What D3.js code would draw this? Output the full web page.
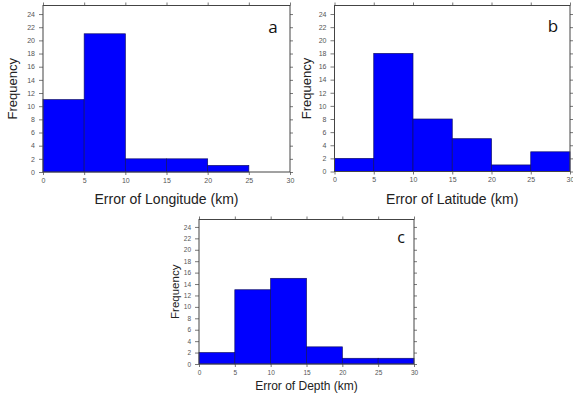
<!DOCTYPE html>
<html>
<head>
<meta charset="utf-8">
<script src="https://cdn.jsdelivr.net/npm/d3@7"></script>
<style>
  html, body { margin: 0; padding: 0; background: #fff; }
  svg { display: block; }
</style>
</head>
<body>
<svg id="chart" width="573" height="396"></svg>
<script>
// ---- data ----
const binEdges = [0, 5, 10, 15, 20, 25, 30];
const longitudeCounts = [11, 21, 2, 2, 1, 0];
const latitudeCounts = [2, 18, 8, 5, 1, 3];
const depthCounts = [2, 13, 15, 3, 1, 1];
const xTickValues = [0, 5, 10, 15, 20, 25, 30];
const yTickValues = [0, 2, 4, 6, 8, 10, 12, 14, 16, 18, 20, 22, 24];
const panelLetters = ["a", "b", "c"];
const xTitles = ["Error of Longitude (km)", "Error of Latitude (km)", "Error of Depth (km)"];
const yTitle = "Frequency";

const svg = d3.select("#chart");

const panels = [
  { counts: longitudeCounts, letter: panelLetters[0], xTitle: xTitles[0],
    x0: 43, x1: 290, yBottom: 172, yTop: 5.5,
    titleFont: 14, yTitleFont: 13, tickFont: 7, yTitleX: 17, xTitleY: 204,
    letterX: 273, letterY: 33, letterFont: 17 },
  { counts: latitudeCounts, letter: panelLetters[1], xTitle: xTitles[1],
    x0: 334.5, x1: 570, yBottom: 171.5, yTop: 5.5,
    titleFont: 14, yTitleFont: 13, tickFont: 7, yTitleX: 311, xTitleY: 204,
    letterX: 553, letterY: 32, letterFont: 17 },
  { counts: depthCounts, letter: panelLetters[2], xTitle: xTitles[2],
    x0: 199, x1: 414, yBottom: 364, yTop: 219.5,
    titleFont: 12, yTitleFont: 11.5, tickFont: 6.5, yTitleX: 179, xTitleY: 390,
    letterX: 401, letterY: 243, letterFont: 16 }
];

panels.forEach(p => {
  const x = d3.scaleLinear().domain([0, 30]).range([p.x0, p.x1]);
  const y = d3.scaleLinear().domain([0, 25.3]).range([p.yBottom, p.yTop]);
  const g = svg.append("g");

  const bins = p.counts.map((c, i) => ({ x0: binEdges[i], x1: binEdges[i + 1], c }))
                       .filter(d => d.c > 0);

  g.selectAll("rect.bar").data(bins).enter().append("rect")
    .attr("class", "bar")
    .attr("x", d => x(d.x0))
    .attr("y", d => y(d.c))
    .attr("width", d => x(d.x1) - x(d.x0))
    .attr("height", d => y(0) - y(d.c))
    .attr("fill", "#0000ff")
    .attr("stroke", "#10106a")
    .attr("stroke-width", 0.7);

  const styleAxis = (sel, showLabels, fs) => {
    sel.select(".domain").remove();
    sel.selectAll(".tick line").attr("stroke", "#555").attr("stroke-width", 0.8);
    sel.selectAll(".tick text")
      .attr("fill", "#555")
      .style("font-family", "'Liberation Sans', Arial, sans-serif")
      .style("font-size", fs + "px");
    if (!showLabels) sel.selectAll(".tick text").remove();
  };

  g.append("g").attr("transform", `translate(0,${p.yBottom})`)
    .call(d3.axisBottom(x).tickValues(xTickValues).tickSize(3).tickPadding(3))
    .call(s => styleAxis(s, true, p.tickFont));
  g.append("g").attr("transform", `translate(0,${p.yTop})`)
    .call(d3.axisTop(x).tickValues(xTickValues).tickSize(3))
    .call(s => styleAxis(s, false, p.tickFont));
  g.append("g").attr("transform", `translate(${p.x0},0)`)
    .call(d3.axisLeft(y).tickValues(yTickValues).tickSize(4).tickPadding(4))
    .call(s => styleAxis(s, true, p.tickFont));
  g.append("g").attr("transform", `translate(${p.x1},0)`)
    .call(d3.axisRight(y).tickValues(yTickValues).tickSize(3))
    .call(s => styleAxis(s, false, p.tickFont));

  g.append("rect")
    .attr("x", p.x0).attr("y", p.yTop)
    .attr("width", p.x1 - p.x0).attr("height", p.yBottom - p.yTop)
    .attr("fill", "none").attr("stroke", "#444").attr("stroke-width", 1);

  g.append("text")
    .attr("x", (p.x0 + p.x1) / 2).attr("y", p.xTitleY)
    .attr("text-anchor", "middle")
    .attr("fill", "#222")
    .style("font-family", "'Liberation Sans', Arial, sans-serif")
    .style("font-size", p.titleFont + "px")
    .text(p.xTitle);

  g.append("text")
    .attr("transform", `translate(${p.yTitleX},${(p.yTop + p.yBottom) / 2}) rotate(-90)`)
    .attr("text-anchor", "middle")
    .attr("fill", "#222")
    .style("font-family", "'Liberation Sans', Arial, sans-serif")
    .style("font-size", p.yTitleFont + "px")
    .text(yTitle);

  g.append("text")
    .attr("x", p.letterX).attr("y", p.letterY)
    .attr("text-anchor", "middle")
    .attr("fill", "#111")
    .style("font-family", "'Open Sans', 'Liberation Sans', sans-serif")
    .style("font-size", p.letterFont + "px")
    .text(p.letter);
});
</script>
</body>
</html>
